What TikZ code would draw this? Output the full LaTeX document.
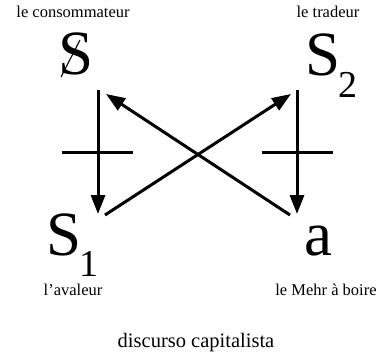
\documentclass[tikz,border=0pt]{standalone}
\usepackage{fontspec}
\setmainfont{Liberation Serif}
\usetikzlibrary{arrows.meta}

\begin{document}
\begin{tikzpicture}[
	x=1pt, y=-1pt,
	lbl/.style={font=\fontsize{16.5}{18}\selectfont, inner sep=0pt, anchor=base},
	big/.style={font=\fontsize{63}{63}\selectfont, inner sep=0pt, anchor=base west},
	arr/.style={-{Triangle[length=19pt, width=14pt]}, line width=3pt},
	bar/.style={line width=3pt}
]
\useasboundingbox (0,0) rectangle (382,353);

% the four places
\node[big] (agent) at (58,74) {S};
\node[big] (other) at (305,75) {S\kern-2pt\raisebox{-22pt}{\fontsize{38}{38}\selectfont 2}};
\node[big] (truth) at (46,255) {S\kern-2pt\raisebox{-21pt}{\fontsize{38}{38}\selectfont 1}};
\node[big] (prod) at (304,255) {a};
\draw[line width=1.1pt] ([shift={(3,3)}]agent.base west) -- ([shift={(22,-34)}]agent.base west);

% names
\node[lbl] (consommateur) at (73,18) {le consommateur};
\node[lbl] (tradeur) at (328,18) {le tradeur};
\node[lbl] (avaleur) at (73,295) {l’avaleur};
\node[lbl] (mehr) at (326,295) {le Mehr à boire};
\node[lbl, font=\fontsize{20.5}{22}\selectfont] (titre) at (196,347) {discurso capitalista};

% corners of the square
\coordinate (tl) at (98,90);
\coordinate (bl) at (98,214);
\coordinate (tr) at (297,90);
\coordinate (br) at (297,214);
\coordinate (blx) at (105,215);
\coordinate (trx) at (291,94);
\coordinate (brx) at (290,215);
\coordinate (tlx) at (106,94);

\draw[arr] (tl) -- (bl);
\draw[arr] (tr) -- (br);
\draw[arr] (blx) -- (trx);
\draw[arr] (brx) -- (tlx);

% bars
\draw[bar] (62,152) -- (133,152);
\draw[bar] (262,152) -- (333,152);

\end{tikzpicture}
\end{document}
